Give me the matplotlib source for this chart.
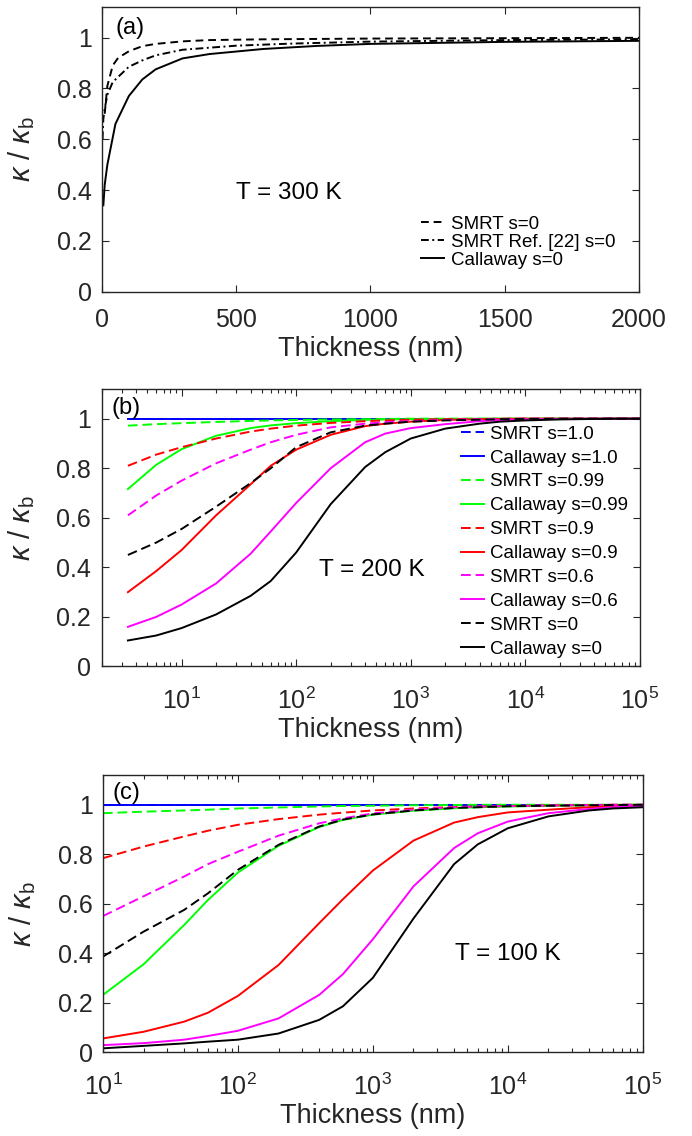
import numpy as np
import matplotlib
matplotlib.use("Agg")
import matplotlib.pyplot as plt
from matplotlib.ticker import FuncFormatter, LogLocator, NullFormatter

# --- fuentes ---
plt.rcParams['font.family'] = ['Liberation Sans', 'DejaVu Sans']
plt.rcParams['mathtext.fontset'] = 'custom'
plt.rcParams['mathtext.rm'] = 'Liberation Sans'
plt.rcParams['mathtext.it'] = 'Liberation Sans:italic'
plt.rcParams['mathtext.bf'] = 'Liberation Sans:bold'

# --- (a) T = 300 K, eje lineal ---
a_x_smrt = [10, 20, 40, 60, 100, 150, 200, 300, 400, 600, 1000, 2000]
a_smrt = [0.70, 0.81, 0.89, 0.92, 0.946, 0.966, 0.975, 0.985, 0.99, 0.993, 0.996, 0.999]
a_x_ref = [2, 5, 10, 20, 40, 60, 100, 150, 200, 300, 500, 700, 1000, 1500, 2000]
a_ref = [0.60, 0.68, 0.72, 0.775, 0.825, 0.845, 0.885, 0.91, 0.93, 0.952, 0.968, 0.976, 0.984, 0.99, 0.993]
a_x_call = [5, 10, 20, 50, 100, 150, 200, 300, 400, 500, 600, 800, 1000, 1500, 2000]
a_call = [0.34, 0.42, 0.50, 0.66, 0.77, 0.835, 0.875, 0.918, 0.935, 0.945, 0.955, 0.967, 0.975, 0.983, 0.987]

# --- (b) T = 200 K ---
b_x = [3.4, 6, 10, 20, 40, 60, 100, 200, 400, 600, 1000, 2000, 4000, 6000, 1e4, 2e4, 4e4, 6e4, 1e5]
b_smrt_s1 = [1.0] * 19
b_call_s1 = [1.0] * 19
b_smrt_s099 = [0.972, 0.978, 0.982, 0.987, 0.991, 0.993, 0.995, 0.997, 0.998, 0.999, 1, 1, 1, 1, 1, 1, 1, 1, 1]
b_call_s099 = [0.716, 0.814, 0.877, 0.931, 0.962, 0.973, 0.982, 0.99, 0.995, 0.997, 0.998, 0.999, 1, 1, 1, 1, 1, 1, 1]
b_smrt_s09 = [0.81, 0.855, 0.885, 0.92, 0.948, 0.96, 0.972, 0.983, 0.99, 0.993, 0.996, 0.998, 0.999, 1, 1, 1, 1, 1, 1]
b_call_s09 = [0.30, 0.385, 0.47, 0.61, 0.735, 0.81, 0.875, 0.935, 0.97, 0.98, 0.988, 0.995, 0.998, 0.999, 1, 1, 1, 1, 1]
b_smrt_s06 = [0.61, 0.69, 0.75, 0.82, 0.875, 0.905, 0.935, 0.965, 0.98, 0.986, 0.99, 0.995, 0.998, 0.999, 1, 1, 1, 1, 1]
b_call_s06 = [0.16, 0.20, 0.25, 0.335, 0.455, 0.545, 0.66, 0.80, 0.905, 0.94, 0.962, 0.978, 0.99, 0.994, 0.997, 0.999, 1, 1, 1]
b_smrt_s0 = [0.45, 0.50, 0.555, 0.645, 0.74, 0.80, 0.885, 0.945, 0.972, 0.98, 0.988, 0.993, 0.996, 0.998, 0.999, 1, 1, 1, 1]
b_call_s0 = [0.105, 0.125, 0.155, 0.21, 0.285, 0.345, 0.46, 0.655, 0.805, 0.865, 0.92, 0.96, 0.98, 0.988, 0.993, 0.997, 0.999, 1, 1]

# --- (c) T = 100 K ---
c_x = [10, 20, 40, 60, 100, 200, 400, 600, 1000, 2000, 4000, 6000, 1e4, 2e4, 4e4, 6e4, 1e5]
c_smrt_s1 = [1.0] * 17
c_call_s1 = [1.0] * 17
c_smrt_s099 = [0.966, 0.972, 0.977, 0.98, 0.985, 0.989, 0.993, 0.995, 0.996, 0.998, 0.999, 1, 1, 1, 1, 1, 1]
c_call_s099 = [0.231, 0.355, 0.514, 0.615, 0.726, 0.834, 0.91, 0.939, 0.96, 0.976, 0.986, 0.99, 0.993, 0.996, 0.998, 0.999, 1.0]
c_smrt_s09 = [0.784, 0.831, 0.872, 0.895, 0.919, 0.942, 0.96, 0.968, 0.977, 0.985, 0.991, 0.993, 0.995, 0.997, 0.999, 1, 1]
c_call_s09 = [0.055, 0.082, 0.123, 0.159, 0.227, 0.352, 0.521, 0.618, 0.734, 0.855, 0.928, 0.95, 0.969, 0.98, 0.99, 0.993, 0.996]
c_smrt_s06 = [0.55, 0.63, 0.71, 0.76, 0.81, 0.875, 0.925, 0.945, 0.965, 0.98, 0.99, 0.993, 0.995, 0.997, 0.999, 1, 1]
c_call_s06 = [0.028, 0.036, 0.05, 0.065, 0.086, 0.136, 0.231, 0.315, 0.456, 0.67, 0.825, 0.885, 0.932, 0.966, 0.983, 0.99, 0.995]
c_smrt_s0 = [0.386, 0.487, 0.575, 0.642, 0.737, 0.838, 0.912, 0.94, 0.961, 0.977, 0.987, 0.99, 0.994, 0.996, 0.998, 0.999, 1.0]
c_call_s0 = [0.015, 0.025, 0.035, 0.042, 0.05, 0.075, 0.13, 0.185, 0.30, 0.54, 0.76, 0.84, 0.905, 0.953, 0.977, 0.985, 0.99]

s_labels = ['1.0', '0.99', '0.9', '0.6', '0']
colores = ['#0000ff', '#00ff00', '#ff0000', '#ff00ff', '#000000']

eje_color = '#262626'
dash = (0, (5, 2.5))
lw = 1.4

fig = plt.figure(figsize=(6.92, 11.36), dpi=100)
ax_a = fig.add_axes([0.1474, 0.7432, 0.776, 0.2506])
ax_b = fig.add_axes([0.1467, 0.4133, 0.778, 0.2443])
ax_c = fig.add_axes([0.1488, 0.0739, 0.780, 0.2438])

fmt_y = FuncFormatter(lambda v, p: '%g' % v)


def estilo(ax, xtpad, xpad):
    ax.set_ylim(0, 1.12)
    ax.set_yticks([0, 0.2, 0.4, 0.6, 0.8, 1.0])
    ax.yaxis.set_major_formatter(fmt_y)
    ax.tick_params(which='both', direction='in', top=True, right=True,
                   colors=eje_color, labelsize=18, width=0.8)
    ax.tick_params(axis='y', pad=7.5)
    ax.tick_params(axis='x', pad=xtpad)
    ax.tick_params(which='major', length=5)
    ax.tick_params(which='minor', length=3)
    for sp in ax.spines.values():
        sp.set_color(eje_color)
        sp.set_linewidth(1.0)
    ax.set_xlabel('Thickness (nm)', fontsize=19.5, color=eje_color, labelpad=xpad)
    ax.set_ylabel(r'$\kappa$ / $\kappa_\mathrm{b}$', fontsize=21, color=eje_color, labelpad=14)


# --- Panel (a) ---
ax_a.plot(a_x_smrt, a_smrt, color='k', lw=lw, linestyle=(0, (4, 2.5)), label='SMRT s=0')
ax_a.plot(a_x_ref, a_ref, color='k', lw=lw, linestyle=(0, (4, 1.8, 1, 1.8)), label='SMRT Ref. [22] s=0')
ax_a.plot(a_x_call, a_call, color='k', lw=lw, label='Callaway s=0')
ax_a.set_xlim(0, 2000)
ax_a.set_xticks([0, 500, 1000, 1500, 2000])
estilo(ax_a, 11.5, 3)
ax_a.text(0.025, 0.925, '(a)', transform=ax_a.transAxes, fontsize=17, va='center', ha='left')
ax_a.text(500, 0.39, 'T = 300 K', fontsize=17.5, va='center', ha='left')
ax_a.legend(loc='lower right', bbox_to_anchor=(0.98, 0.035), frameon=False, fontsize=13.5,
            handlelength=1.25, handletextpad=0.35, labelspacing=0.04, borderpad=0.2)

# --- Paneles (b) y (c) ---
series_b = [(b_smrt_s1, b_call_s1), (b_smrt_s099, b_call_s099), (b_smrt_s09, b_call_s09),
            (b_smrt_s06, b_call_s06), (b_smrt_s0, b_call_s0)]
series_c = [(c_smrt_s1, c_call_s1), (c_smrt_s099, c_call_s099), (c_smrt_s09, c_call_s09),
            (c_smrt_s06, c_call_s06), (c_smrt_s0, c_call_s0)]

for ax, xs, series in [(ax_b, b_x, series_b), (ax_c, c_x, series_c)]:
    for (smrt, call), s, col in zip(series, s_labels, colores):
        ax.plot(xs, smrt, color=col, lw=lw, linestyle=dash, label='SMRT s=' + s)
        ax.plot(xs, call, color=col, lw=lw, label='Callaway s=' + s)
    ax.set_xscale('log')
    ax.xaxis.set_major_locator(LogLocator(base=10, numticks=10))
    ax.xaxis.set_minor_locator(LogLocator(base=10, subs=np.arange(2, 10), numticks=20))
    ax.xaxis.set_minor_formatter(NullFormatter())
    estilo(ax, 15.5, 2)

ax_b.set_xlim(2, 1e5)
ax_c.set_xlim(10, 1e5)

ax_b.text(0.018, 0.93, '(b)', transform=ax_b.transAxes, fontsize=17, va='center', ha='left')
ax_c.text(0.018, 0.935, '(c)', transform=ax_c.transAxes, fontsize=17, va='center', ha='left')
ax_b.text(158, 0.39, 'T = 200 K', fontsize=17.5, va='center', ha='left')
ax_c.text(4070, 0.397, 'T = 100 K', fontsize=17.5, va='center', ha='left')

ax_b.legend(loc='lower right', bbox_to_anchor=(1.006, -0.022), frameon=False, fontsize=13.5,
            handlelength=1.25, handletextpad=0.3, labelspacing=0.36, borderpad=0.3)

fig.savefig('out.png', dpi=100)
